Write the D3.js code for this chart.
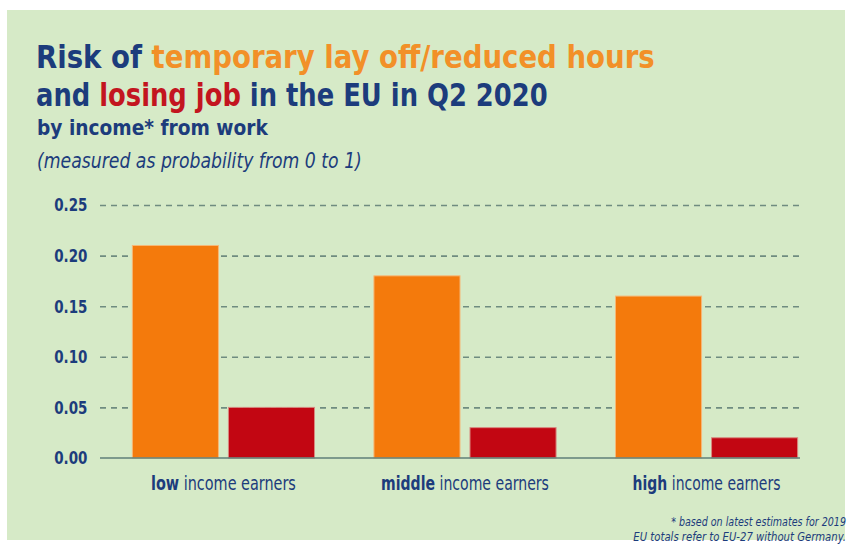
<!DOCTYPE html>
<html>
<head>
<meta charset="utf-8">
<script src="https://cdn.jsdelivr.net/npm/d3@7"></script>
<style>
  body { margin: 0; background: #fff; }
  #chart { width: 851px; height: 547px; }
  text { font-family: "Liberation Sans Narrow", "DejaVu Sans Condensed", "Roboto", sans-serif; }
</style>
</head>
<body>
<div id="chart"></div>
<script>
const container = "#chart";

// data
const groups = ["low", "middle", "high"];
const series = ["layoff", "losejob"];
const layoff = [0.21, 0.18, 0.16];
const losejob = [0.05, 0.03, 0.02];
const yTicks = [0, 0.05, 0.10, 0.15, 0.20, 0.25];

let c_blue = '#1c3c7c',
	c_orange = '#f47a0c',
	c_red = '#c20612',
	c_title_orange = '#f29028',
	c_title_red = '#c3151f',
	c_bg = '#d6eac7',
	c_grid = '#6f8c80';

const width = 851, height = 547;

let svg = d3.select(container)
	.append("svg")
	.attr("width", width)
	.attr("height", height);

// background panel
svg.append("rect")
	.attr("x", 7).attr("y", 10)
	.attr("width", 838).attr("height", 530)
	.attr("fill", c_bg);

// squeeze a text horizontally (around anchor x) so it spans target width
function fit(sel, x, target) {
	let w = sel.node().getComputedTextLength();
	let k = target / w;
	sel.attr("transform", "translate(" + x + ",0) scale(" + k + ",1) translate(" + (-x) + ",0)");
}

// titles
let t1 = svg.append("text").attr("x", 36).attr("y", 68)
	.attr("font-size", 32).attr("font-weight", "bold");
t1.append("tspan").attr("fill", c_blue).text("Risk of ");
t1.append("tspan").attr("fill", c_title_orange).text("temporary lay off/reduced hours");
fit(t1, 36, 619);

let t2 = svg.append("text").attr("x", 36).attr("y", 106)
	.attr("font-size", 32).attr("font-weight", "bold");
t2.append("tspan").attr("fill", c_blue).text("and ");
t2.append("tspan").attr("fill", c_title_red).text("losing job");
t2.append("tspan").attr("fill", c_blue).text(" in the EU in Q2 2020");
fit(t2, 36, 512);

let t3 = svg.append("text").attr("x", 37).attr("y", 135)
	.attr("font-size", 21).attr("font-weight", "bold")
	.attr("fill", c_blue).text("by income* from work");
fit(t3, 37, 231);

let t4 = svg.append("text").attr("x", 37).attr("y", 168)
	.attr("font-size", 21).attr("font-style", "italic")
	.attr("fill", c_blue).text("(measured as probability from 0 to 1)");
fit(t4, 37, 325);

// scales
let x = d3.scaleBand()
	.domain(groups)
	.range([100, 830])
	.paddingInner(0.246)
	.paddingOuter(0.134);

let xs = d3.scaleBand()
	.domain(series)
	.range([0, x.bandwidth()])
	.paddingInner(0.104);

let y = d3.scaleLinear()
	.domain([0, 0.25])
	.range([458, 205]);

// grid
let grid = svg.append("g")
	.attr("transform", "translate(100,0)")
	.call(d3.axisLeft(y)
		.tickValues(yTicks.filter(d => d > 0))
		.tickSize(-700)
		.tickFormat(""));
grid.select(".domain").remove();
grid.selectAll("line")
	.attr("stroke", c_grid)
	.attr("stroke-width", 1.6)
	.attr("stroke-dasharray", "6,5");

// y labels
let yAxis = svg.append("g")
	.attr("transform", "translate(90,0)")
	.call(d3.axisLeft(y)
		.tickValues(yTicks)
		.tickSize(0)
		.tickFormat(d3.format(".2f")));
yAxis.select(".domain").remove();
yAxis.selectAll("text")
	.attr("fill", c_blue)
	.attr("font-size", 17)
	.attr("font-weight", "bold")
	.attr("dx", 0)
	.attr("dy", "0.35em")
	.attr("transform", "scale(0.88,1)")
	.style("font-family", "'Liberation Sans Narrow', 'DejaVu Sans Condensed', sans-serif");

// bars
let rows = groups.map((g, i) => ({ group: g, values: [layoff[i], losejob[i]] }));

let bars = svg.append("g").attr("id", "bars")
	.selectAll("g")
	.data(rows)
	.enter()
	.append("g")
	.attr("transform", d => "translate(" + x(d.group) + ",0)");

bars.selectAll("rect")
	.data(d => d.values.map((v, j) => ({ key: series[j], value: v })))
	.enter()
	.append("rect")
	.attr("x", d => xs(d.key))
	.attr("y", d => y(d.value))
	.attr("width", xs.bandwidth())
	.attr("height", d => y(0) - y(d.value))
	.attr("fill", d => d.key == "layoff" ? c_orange : c_red)
	.attr("stroke", d => d.key == "layoff" ? "#f6b878" : "#d88a80")
	.attr("stroke-width", 1);

// baseline
svg.append("line")
	.attr("x1", 100).attr("x2", 800)
	.attr("y1", y(0)).attr("y2", y(0))
	.attr("stroke", "#5f7f78")
	.attr("stroke-width", 1.6);

// category labels
let labelW = [145, 168, 148];
let labels = svg.append("g").selectAll("text")
	.data(groups)
	.enter()
	.append("text")
	.attr("x", d => x(d) + x.bandwidth() / 2)
	.attr("y", 490)
	.attr("text-anchor", "middle")
	.attr("font-size", 19)
	.attr("fill", c_blue);
labels.append("tspan").attr("font-weight", "bold").text(d => d);
labels.append("tspan").text(" income earners");
labels.each(function(d, i) {
	fit(d3.select(this), x(d) + x.bandwidth() / 2, labelW[i]);
});

// footnote
let f1 = svg.append("text")
	.attr("x", 846).attr("y", 526)
	.attr("text-anchor", "end")
	.attr("font-size", 13).attr("font-style", "italic")
	.attr("fill", c_blue)
	.text("* based on latest estimates for 2019");
fit(f1, 846, 175);
let f2 = svg.append("text")
	.attr("x", 846).attr("y", 541)
	.attr("text-anchor", "end")
	.attr("font-size", 13).attr("font-style", "italic")
	.attr("fill", c_blue)
	.text("EU totals refer to EU-27 without Germany.");
fit(f2, 846, 213);
</script>
</body>
</html>
